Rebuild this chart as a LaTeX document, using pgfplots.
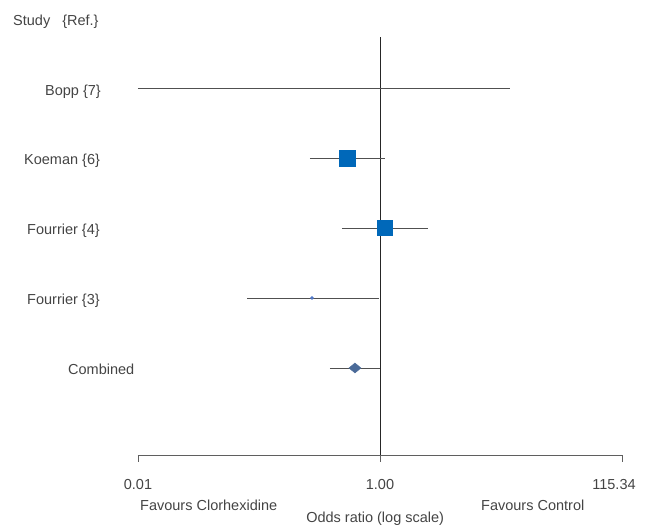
\documentclass[border=0pt]{standalone}
\usepackage{fontspec}
\setmainfont{Liberation Sans}
\usepackage{pgfplots}
\pgfplotsset{compat=1.18}

\definecolor{txt}{RGB}{68,68,68}
\definecolor{axgray}{RGB}{95,95,95}
\definecolor{cigray}{RGB}{80,80,80}
\definecolor{sqblue}{RGB}{0,104,185}
\definecolor{dotblue}{RGB}{80,120,200}
\definecolor{diablue}{RGB}{74,106,152}

\begin{document}
\begin{tikzpicture}[font=\fontsize{14.5}{17}\selectfont]
\useasboundingbox (-138pt,-74pt) rectangle (519pt,455pt);
\begin{axis}[
  at={(0,0)}, anchor=south west,
  scale only axis, width=484pt, height=418pt,
  xmode=log, xmin=0.00867, xmax=115.34,
  ymin=-0.243, ymax=5.729,
  axis y line=none, ytick=\empty,
  axis x line*=bottom,
  axis line style={-, draw=axgray, line width=0.9pt},
  xtick={0.00867,1}, xticklabels={0.01,1.00},
  extra x ticks={115.34}, extra x tick labels={115.34},
  extra x tick style={xticklabel style={xshift=-8pt}},
  minor xtick={},
  tick align=outside, major tick length=7pt,
  tick style={draw=axgray, line width=0.9pt},
  xticklabel style={text=txt, anchor=center, yshift=-23pt},
  xlabel={Odds ratio (log scale)},
  xlabel style={at={(axis description cs:0.49,0)}, anchor=center, yshift=-64pt, text=txt},
  clip=false,
]
% line of no effect
\addplot[black!85, line width=0.8pt] coordinates {(1,-0.243) (1,5.729)};

% confidence intervals
\addplot[cigray, line width=0.9pt] coordinates {(0.00867,5) (12.82,5)};   % Bopp
\addplot[cigray, line width=0.9pt] coordinates {(0.2532,4) (1.103,4)};    % Koeman
\addplot[cigray, line width=0.9pt] coordinates {(0.4745,3) (2.565,3)};    % Fourrier 4
\addplot[cigray, line width=0.9pt] coordinates {(0.0736,2) (0.98,2)};     % Fourrier 3
\addplot[cigray, line width=0.9pt] coordinates {(0.375,1) (1.0,1)};       % Combined

% point estimates
\addplot[only marks, mark=square*, mark size=8pt, color=sqblue] coordinates {(0.5234,4)};
\addplot[only marks, mark=square*, mark size=7.5pt, color=sqblue] coordinates {(1.092,3)};
\addplot[only marks, mark=*, mark size=1.5pt, color=dotblue] coordinates {(0.2634,2)};
\addplot[only marks, mark=diamond*, mark size=5pt, mark options={xscale=1.6}, color=diablue] coordinates {(0.612,1)};
\end{axis}

\begin{scope}[every node/.style={text=txt, anchor=base west, inner sep=0pt}]
\node at (-125pt,429pt) {Study\hspace{12pt}\{Ref.\}};
\node at (-93pt,359pt) {Bopp \{7\}};
\node at (-114pt,290pt) {Koeman \{6\}};
\node at (-111pt,220pt) {Fourrier \{4\}};
\node at (-111pt,150pt) {Fourrier \{3\}};
\node at (-70pt,80pt) {Combined};
\node at (2pt,-56pt) {Favours Clorhexidine};
\node at (343pt,-56pt) {Favours Control};
\end{scope}
\end{tikzpicture}
\end{document}
